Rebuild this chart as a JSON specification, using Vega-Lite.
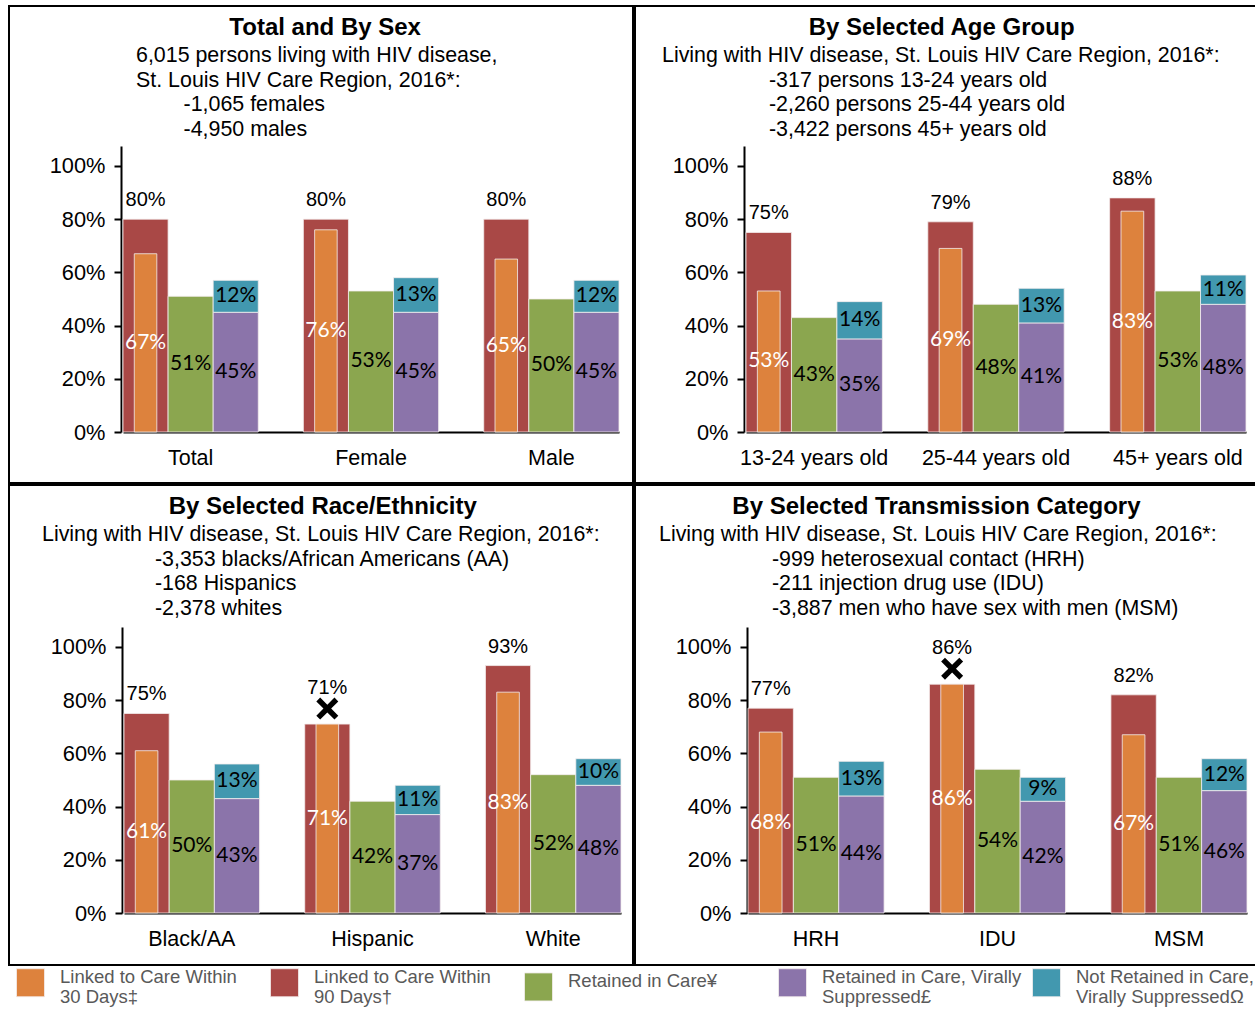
{
  "$schema": "https://vega.github.io/schema/vega-lite/v6.json",
  "padding": {"left": 8, "top": 5, "right": 0, "bottom": 0},
  "background": "white",
  "datasets": {
    "rows": [
      {"panel": "sex", "cat": "Total", "key": "l30", "series": "Linked to Care Within 30 Days‡", "group": "Linked", "value": 0.67, "flag": false},
      {"panel": "sex", "cat": "Total", "key": "l90", "series": "Linked to Care Within 90 Days†", "group": "Linked", "value": 0.80, "flag": false},
      {"panel": "sex", "cat": "Total", "key": "ret", "series": "Retained in Care¥", "group": "Retained", "value": 0.51, "flag": false},
      {"panel": "sex", "cat": "Total", "key": "vs", "series": "Retained in Care, Virally Suppressed£", "group": "Suppressed", "value": 0.45, "flag": false},
      {"panel": "sex", "cat": "Total", "key": "nrvs", "series": "Not Retained in Care, Virally SuppressedΩ", "group": "Suppressed", "value": 0.12, "flag": false},
      {"panel": "sex", "cat": "Female", "key": "l30", "series": "Linked to Care Within 30 Days‡", "group": "Linked", "value": 0.76, "flag": false},
      {"panel": "sex", "cat": "Female", "key": "l90", "series": "Linked to Care Within 90 Days†", "group": "Linked", "value": 0.80, "flag": false},
      {"panel": "sex", "cat": "Female", "key": "ret", "series": "Retained in Care¥", "group": "Retained", "value": 0.53, "flag": false},
      {"panel": "sex", "cat": "Female", "key": "vs", "series": "Retained in Care, Virally Suppressed£", "group": "Suppressed", "value": 0.45, "flag": false},
      {"panel": "sex", "cat": "Female", "key": "nrvs", "series": "Not Retained in Care, Virally SuppressedΩ", "group": "Suppressed", "value": 0.13, "flag": false},
      {"panel": "sex", "cat": "Male", "key": "l30", "series": "Linked to Care Within 30 Days‡", "group": "Linked", "value": 0.65, "flag": false},
      {"panel": "sex", "cat": "Male", "key": "l90", "series": "Linked to Care Within 90 Days†", "group": "Linked", "value": 0.80, "flag": false},
      {"panel": "sex", "cat": "Male", "key": "ret", "series": "Retained in Care¥", "group": "Retained", "value": 0.50, "flag": false},
      {"panel": "sex", "cat": "Male", "key": "vs", "series": "Retained in Care, Virally Suppressed£", "group": "Suppressed", "value": 0.45, "flag": false},
      {"panel": "sex", "cat": "Male", "key": "nrvs", "series": "Not Retained in Care, Virally SuppressedΩ", "group": "Suppressed", "value": 0.12, "flag": false},

      {"panel": "age", "cat": "13-24 years old", "key": "l30", "series": "Linked to Care Within 30 Days‡", "group": "Linked", "value": 0.53, "flag": false},
      {"panel": "age", "cat": "13-24 years old", "key": "l90", "series": "Linked to Care Within 90 Days†", "group": "Linked", "value": 0.75, "flag": false},
      {"panel": "age", "cat": "13-24 years old", "key": "ret", "series": "Retained in Care¥", "group": "Retained", "value": 0.43, "flag": false},
      {"panel": "age", "cat": "13-24 years old", "key": "vs", "series": "Retained in Care, Virally Suppressed£", "group": "Suppressed", "value": 0.35, "flag": false},
      {"panel": "age", "cat": "13-24 years old", "key": "nrvs", "series": "Not Retained in Care, Virally SuppressedΩ", "group": "Suppressed", "value": 0.14, "flag": false},
      {"panel": "age", "cat": "25-44 years old", "key": "l30", "series": "Linked to Care Within 30 Days‡", "group": "Linked", "value": 0.69, "flag": false},
      {"panel": "age", "cat": "25-44 years old", "key": "l90", "series": "Linked to Care Within 90 Days†", "group": "Linked", "value": 0.79, "flag": false},
      {"panel": "age", "cat": "25-44 years old", "key": "ret", "series": "Retained in Care¥", "group": "Retained", "value": 0.48, "flag": false},
      {"panel": "age", "cat": "25-44 years old", "key": "vs", "series": "Retained in Care, Virally Suppressed£", "group": "Suppressed", "value": 0.41, "flag": false},
      {"panel": "age", "cat": "25-44 years old", "key": "nrvs", "series": "Not Retained in Care, Virally SuppressedΩ", "group": "Suppressed", "value": 0.13, "flag": false},
      {"panel": "age", "cat": "45+ years old", "key": "l30", "series": "Linked to Care Within 30 Days‡", "group": "Linked", "value": 0.83, "flag": false},
      {"panel": "age", "cat": "45+ years old", "key": "l90", "series": "Linked to Care Within 90 Days†", "group": "Linked", "value": 0.88, "flag": false},
      {"panel": "age", "cat": "45+ years old", "key": "ret", "series": "Retained in Care¥", "group": "Retained", "value": 0.53, "flag": false},
      {"panel": "age", "cat": "45+ years old", "key": "vs", "series": "Retained in Care, Virally Suppressed£", "group": "Suppressed", "value": 0.48, "flag": false},
      {"panel": "age", "cat": "45+ years old", "key": "nrvs", "series": "Not Retained in Care, Virally SuppressedΩ", "group": "Suppressed", "value": 0.11, "flag": false},

      {"panel": "race", "cat": "Black/AA", "key": "l30", "series": "Linked to Care Within 30 Days‡", "group": "Linked", "value": 0.61, "flag": false},
      {"panel": "race", "cat": "Black/AA", "key": "l90", "series": "Linked to Care Within 90 Days†", "group": "Linked", "value": 0.75, "flag": false},
      {"panel": "race", "cat": "Black/AA", "key": "ret", "series": "Retained in Care¥", "group": "Retained", "value": 0.50, "flag": false},
      {"panel": "race", "cat": "Black/AA", "key": "vs", "series": "Retained in Care, Virally Suppressed£", "group": "Suppressed", "value": 0.43, "flag": false},
      {"panel": "race", "cat": "Black/AA", "key": "nrvs", "series": "Not Retained in Care, Virally SuppressedΩ", "group": "Suppressed", "value": 0.13, "flag": false},
      {"panel": "race", "cat": "Hispanic", "key": "l30", "series": "Linked to Care Within 30 Days‡", "group": "Linked", "value": 0.71, "flag": true},
      {"panel": "race", "cat": "Hispanic", "key": "l90", "series": "Linked to Care Within 90 Days†", "group": "Linked", "value": 0.71, "flag": true},
      {"panel": "race", "cat": "Hispanic", "key": "ret", "series": "Retained in Care¥", "group": "Retained", "value": 0.42, "flag": true},
      {"panel": "race", "cat": "Hispanic", "key": "vs", "series": "Retained in Care, Virally Suppressed£", "group": "Suppressed", "value": 0.37, "flag": true},
      {"panel": "race", "cat": "Hispanic", "key": "nrvs", "series": "Not Retained in Care, Virally SuppressedΩ", "group": "Suppressed", "value": 0.11, "flag": true},
      {"panel": "race", "cat": "White", "key": "l30", "series": "Linked to Care Within 30 Days‡", "group": "Linked", "value": 0.83, "flag": false},
      {"panel": "race", "cat": "White", "key": "l90", "series": "Linked to Care Within 90 Days†", "group": "Linked", "value": 0.93, "flag": false},
      {"panel": "race", "cat": "White", "key": "ret", "series": "Retained in Care¥", "group": "Retained", "value": 0.52, "flag": false},
      {"panel": "race", "cat": "White", "key": "vs", "series": "Retained in Care, Virally Suppressed£", "group": "Suppressed", "value": 0.48, "flag": false},
      {"panel": "race", "cat": "White", "key": "nrvs", "series": "Not Retained in Care, Virally SuppressedΩ", "group": "Suppressed", "value": 0.10, "flag": false},

      {"panel": "trans", "cat": "HRH", "key": "l30", "series": "Linked to Care Within 30 Days‡", "group": "Linked", "value": 0.68, "flag": false},
      {"panel": "trans", "cat": "HRH", "key": "l90", "series": "Linked to Care Within 90 Days†", "group": "Linked", "value": 0.77, "flag": false},
      {"panel": "trans", "cat": "HRH", "key": "ret", "series": "Retained in Care¥", "group": "Retained", "value": 0.51, "flag": false},
      {"panel": "trans", "cat": "HRH", "key": "vs", "series": "Retained in Care, Virally Suppressed£", "group": "Suppressed", "value": 0.44, "flag": false},
      {"panel": "trans", "cat": "HRH", "key": "nrvs", "series": "Not Retained in Care, Virally SuppressedΩ", "group": "Suppressed", "value": 0.13, "flag": false},
      {"panel": "trans", "cat": "IDU", "key": "l30", "series": "Linked to Care Within 30 Days‡", "group": "Linked", "value": 0.86, "flag": true},
      {"panel": "trans", "cat": "IDU", "key": "l90", "series": "Linked to Care Within 90 Days†", "group": "Linked", "value": 0.86, "flag": true},
      {"panel": "trans", "cat": "IDU", "key": "ret", "series": "Retained in Care¥", "group": "Retained", "value": 0.54, "flag": true},
      {"panel": "trans", "cat": "IDU", "key": "vs", "series": "Retained in Care, Virally Suppressed£", "group": "Suppressed", "value": 0.42, "flag": true},
      {"panel": "trans", "cat": "IDU", "key": "nrvs", "series": "Not Retained in Care, Virally SuppressedΩ", "group": "Suppressed", "value": 0.09, "flag": true},
      {"panel": "trans", "cat": "MSM", "key": "l30", "series": "Linked to Care Within 30 Days‡", "group": "Linked", "value": 0.67, "flag": false},
      {"panel": "trans", "cat": "MSM", "key": "l90", "series": "Linked to Care Within 90 Days†", "group": "Linked", "value": 0.82, "flag": false},
      {"panel": "trans", "cat": "MSM", "key": "ret", "series": "Retained in Care¥", "group": "Retained", "value": 0.51, "flag": false},
      {"panel": "trans", "cat": "MSM", "key": "vs", "series": "Retained in Care, Virally Suppressed£", "group": "Suppressed", "value": 0.46, "flag": false},
      {"panel": "trans", "cat": "MSM", "key": "nrvs", "series": "Not Retained in Care, Virally SuppressedΩ", "group": "Suppressed", "value": 0.12, "flag": false}
    ]
  },
  "data": {"name": "rows"},
  "spacing": 0,
  "resolve": {"scale": {"xOffset": "independent"}},
  "vconcat": [
    {
      "spacing": 0,
      "resolve": {"scale": {"xOffset": "independent"}},
      "hconcat": [
        {
          "width": 624, "height": 477,
          "resolve": {"scale": {"xOffset": "independent"}},
          "title": {"text": "\u200b\u00a0\u00a0\u00a0\u00a0\u00a0\u00a0\u00a0\u00a0\u00a0\u00a0\u00a0\u00a0\u00a0\u00a0Total and By Sex",
            "subtitle": ["6,015 persons living with HIV disease,", "St. Louis HIV Care Region, 2016*:", "\u200b\u00a0\u00a0\u00a0\u00a0\u00a0\u00a0\u00a0\u00a0-1,065 females", "\u200b\u00a0\u00a0\u00a0\u00a0\u00a0\u00a0\u00a0\u00a0-4,950 males"],
            "dx": 127},
          "transform": [{"filter": "datum.panel == 'sex'"}],
          "encoding": {
            "x": {"field": "cat", "type": "nominal", "title": null, "scale": {"type": "band", "domain": ["Total", "Female", "Male"], "range": [114, 610], "paddingInner": 0.25, "paddingOuter": 0}, "axis": {"offset": -51}},
            "xOffset": {"field": "group", "type": "nominal", "scale": {"type": "band", "domain": ["Linked", "Retained", "Suppressed"], "paddingInner": 0, "paddingOuter": 0}},
            "color": {"field": "series", "type": "nominal", "title": null,
              "scale": {"domain": ["Linked to Care Within 30 Days‡", "Linked to Care Within 90 Days†", "Retained in Care¥", "Retained in Care, Virally Suppressed£", "Not Retained in Care, Virally SuppressedΩ"], "range": ["#DD823D", "#A94846", "#8BA64F", "#8B74AA", "#4298AF"]},
              "legend": {"title": null, "labelExpr": "datum.label == 'Linked to Care Within 30 Days‡' ? ['Linked to Care Within', '30 Days‡'] : datum.label == 'Linked to Care Within 90 Days†' ? ['Linked to Care Within', '90 Days†'] : datum.label == 'Retained in Care, Virally Suppressed£' ? ['Retained in Care, Virally', 'Suppressed£'] : datum.label == 'Not Retained in Care, Virally SuppressedΩ' ? ['Not Retained in Care,', 'Virally SuppressedΩ'] : datum.label"}}
          },
          "layer": [
            {"transform": [{"filter": {"field": "key", "oneOf": ["l90", "ret"]}}], "mark": {"type": "bar"},
             "encoding": {"y": {"field": "value", "type": "quantitative", "stack": null, "title": null, "scale": {"domain": [0, 1.075], "range": [426, 140], "nice": false, "zero": false}, "axis": {"offset": -112, "values": [0, 0.2, 0.4, 0.6, 0.8, 1], "format": ".0%"}}}},
            {"transform": [{"filter": {"field": "key", "equal": "l30"}}], "mark": {"type": "bar"},
             "encoding": {"xOffset": {"field": "group", "type": "nominal", "scale": {"type": "band", "domain": ["Linked", "Retained", "Suppressed"], "paddingInner": 0.5, "paddingOuter": 0.25}}, "y": {"field": "value", "type": "quantitative", "stack": null, "title": null}}},
            {"transform": [{"filter": {"field": "key", "oneOf": ["vs", "nrvs"]}}], "mark": {"type": "bar"},
             "encoding": {"y": {"field": "value", "type": "quantitative", "stack": "zero", "title": null}, "order": {"field": "key", "sort": "descending"}}},
            {"transform": [{"filter": {"field": "key", "equal": "l30"}}], "mark": {"type": "text", "font": "Lato", "fontSize": 21},
             "encoding": {"y": {"field": "value", "type": "quantitative", "stack": "zero", "bandPosition": 0.5, "title": null}, "text": {"field": "value", "type": "quantitative", "format": ".0%"}, "color": {"value": "white"}}},
            {"transform": [{"filter": {"field": "key", "equal": "ret"}}], "mark": {"type": "text", "font": "Lato", "fontSize": 21},
             "encoding": {"y": {"field": "value", "type": "quantitative", "stack": "zero", "bandPosition": 0.5, "title": null}, "text": {"field": "value", "type": "quantitative", "format": ".0%"}, "color": {"value": "black"}}},
            {"transform": [{"filter": {"field": "key", "oneOf": ["vs", "nrvs"]}}], "mark": {"type": "text", "font": "Lato", "fontSize": 21},
             "encoding": {"y": {"field": "value", "type": "quantitative", "stack": "zero", "bandPosition": 0.5, "title": null}, "detail": {"field": "key"}, "order": {"field": "key", "sort": "descending"}, "text": {"field": "value", "type": "quantitative", "format": ".0%"}, "color": {"value": "black"}}},
            {"transform": [{"filter": "datum.key == 'l90' && !datum.flag"}], "mark": {"type": "text", "font": "Liberation Sans", "fontSize": 20, "baseline": "alphabetic", "dy": -13},
             "encoding": {"y": {"field": "value", "type": "quantitative", "title": null}, "text": {"field": "value", "type": "quantitative", "format": ".0%"}, "color": {"value": "black"}}}
          ]
        },
        {
          "width": 623, "height": 477,
          "resolve": {"scale": {"xOffset": "independent"}},
          "title": {"text": "\u200b\u00a0\u00a0\u00a0\u00a0\u00a0\u00a0\u00a0\u00a0\u00a0\u00a0\u00a0\u00a0\u00a0\u00a0\u00a0\u00a0\u00a0\u00a0\u00a0\u00a0\u00a0\u00a0By Selected Age Group",
            "subtitle": ["Living with HIV disease, St. Louis HIV Care Region, 2016*:", "\u200b\u00a0\u00a0\u00a0\u00a0\u00a0\u00a0\u00a0\u00a0\u00a0\u00a0\u00a0\u00a0\u00a0\u00a0\u00a0\u00a0\u00a0\u00a0-317 persons 13-24 years old", "\u200b\u00a0\u00a0\u00a0\u00a0\u00a0\u00a0\u00a0\u00a0\u00a0\u00a0\u00a0\u00a0\u00a0\u00a0\u00a0\u00a0\u00a0\u00a0-2,260 persons 25-44 years old", "\u200b\u00a0\u00a0\u00a0\u00a0\u00a0\u00a0\u00a0\u00a0\u00a0\u00a0\u00a0\u00a0\u00a0\u00a0\u00a0\u00a0\u00a0\u00a0-3,422 persons 45+ years old"],
            "dx": 27},
          "transform": [{"filter": "datum.panel == 'age'"}],
          "encoding": {
            "x": {"field": "cat", "type": "nominal", "title": null, "scale": {"type": "band", "domain": ["13-24 years old", "25-44 years old", "45+ years old"], "range": [111, 611], "paddingInner": 0.25, "paddingOuter": 0}, "axis": {"offset": -51}},
            "xOffset": {"field": "group", "type": "nominal", "scale": {"type": "band", "domain": ["Linked", "Retained", "Suppressed"], "paddingInner": 0, "paddingOuter": 0}},
            "color": {"field": "series", "type": "nominal", "title": null,
              "scale": {"domain": ["Linked to Care Within 30 Days‡", "Linked to Care Within 90 Days†", "Retained in Care¥", "Retained in Care, Virally Suppressed£", "Not Retained in Care, Virally SuppressedΩ"], "range": ["#DD823D", "#A94846", "#8BA64F", "#8B74AA", "#4298AF"]},
              "legend": {"title": null, "labelExpr": "datum.label == 'Linked to Care Within 30 Days‡' ? ['Linked to Care Within', '30 Days‡'] : datum.label == 'Linked to Care Within 90 Days†' ? ['Linked to Care Within', '90 Days†'] : datum.label == 'Retained in Care, Virally Suppressed£' ? ['Retained in Care, Virally', 'Suppressed£'] : datum.label == 'Not Retained in Care, Virally SuppressedΩ' ? ['Not Retained in Care,', 'Virally SuppressedΩ'] : datum.label"}}
          },
          "layer": [
            {"transform": [{"filter": {"field": "key", "oneOf": ["l90", "ret"]}}], "mark": {"type": "bar"},
             "encoding": {"y": {"field": "value", "type": "quantitative", "stack": null, "title": null, "scale": {"domain": [0, 1.075], "range": [426, 140], "nice": false, "zero": false}, "axis": {"offset": -109, "values": [0, 0.2, 0.4, 0.6, 0.8, 1], "format": ".0%"}}}},
            {"transform": [{"filter": {"field": "key", "equal": "l30"}}], "mark": {"type": "bar"},
             "encoding": {"xOffset": {"field": "group", "type": "nominal", "scale": {"type": "band", "domain": ["Linked", "Retained", "Suppressed"], "paddingInner": 0.5, "paddingOuter": 0.25}}, "y": {"field": "value", "type": "quantitative", "stack": null, "title": null}}},
            {"transform": [{"filter": {"field": "key", "oneOf": ["vs", "nrvs"]}}], "mark": {"type": "bar"},
             "encoding": {"y": {"field": "value", "type": "quantitative", "stack": "zero", "title": null}, "order": {"field": "key", "sort": "descending"}}},
            {"transform": [{"filter": {"field": "key", "equal": "l30"}}], "mark": {"type": "text", "font": "Lato", "fontSize": 21},
             "encoding": {"y": {"field": "value", "type": "quantitative", "stack": "zero", "bandPosition": 0.5, "title": null}, "text": {"field": "value", "type": "quantitative", "format": ".0%"}, "color": {"value": "white"}}},
            {"transform": [{"filter": {"field": "key", "equal": "ret"}}], "mark": {"type": "text", "font": "Lato", "fontSize": 21},
             "encoding": {"y": {"field": "value", "type": "quantitative", "stack": "zero", "bandPosition": 0.5, "title": null}, "text": {"field": "value", "type": "quantitative", "format": ".0%"}, "color": {"value": "black"}}},
            {"transform": [{"filter": {"field": "key", "oneOf": ["vs", "nrvs"]}}], "mark": {"type": "text", "font": "Lato", "fontSize": 21},
             "encoding": {"y": {"field": "value", "type": "quantitative", "stack": "zero", "bandPosition": 0.5, "title": null}, "detail": {"field": "key"}, "order": {"field": "key", "sort": "descending"}, "text": {"field": "value", "type": "quantitative", "format": ".0%"}, "color": {"value": "black"}}},
            {"transform": [{"filter": "datum.key == 'l90' && !datum.flag"}], "mark": {"type": "text", "font": "Liberation Sans", "fontSize": 20, "baseline": "alphabetic", "dy": -13},
             "encoding": {"y": {"field": "value", "type": "quantitative", "title": null}, "text": {"field": "value", "type": "quantitative", "format": ".0%"}, "color": {"value": "black"}}}
          ]
        }
      ]
    },
    {
      "spacing": 0,
      "resolve": {"scale": {"xOffset": "independent"}},
      "hconcat": [
        {
          "width": 624, "height": 480,
          "resolve": {"scale": {"xOffset": "independent"}},
          "title": {"text": "\u200b\u00a0\u00a0\u00a0\u00a0\u00a0\u00a0\u00a0\u00a0\u00a0\u00a0\u00a0\u00a0\u00a0\u00a0\u00a0\u00a0\u00a0\u00a0\u00a0By Selected Race/Ethnicity",
            "subtitle": ["Living with HIV disease, St. Louis HIV Care Region, 2016*:", "\u200b\u00a0\u00a0\u00a0\u00a0\u00a0\u00a0\u00a0\u00a0\u00a0\u00a0\u00a0\u00a0\u00a0\u00a0\u00a0\u00a0\u00a0\u00a0\u00a0-3,353 blacks/African Americans (AA)", "\u200b\u00a0\u00a0\u00a0\u00a0\u00a0\u00a0\u00a0\u00a0\u00a0\u00a0\u00a0\u00a0\u00a0\u00a0\u00a0\u00a0\u00a0\u00a0\u00a0-168 Hispanics", "\u200b\u00a0\u00a0\u00a0\u00a0\u00a0\u00a0\u00a0\u00a0\u00a0\u00a0\u00a0\u00a0\u00a0\u00a0\u00a0\u00a0\u00a0\u00a0\u00a0-2,378 whites"],
            "dx": 33},
          "transform": [{"filter": "datum.panel == 'race'"}],
          "encoding": {
            "x": {"field": "cat", "type": "nominal", "title": null, "scale": {"type": "band", "domain": ["Black/AA", "Hispanic", "White"], "range": [115, 612], "paddingInner": 0.25, "paddingOuter": 0}, "axis": {"offset": -52}},
            "xOffset": {"field": "group", "type": "nominal", "scale": {"type": "band", "domain": ["Linked", "Retained", "Suppressed"], "paddingInner": 0, "paddingOuter": 0}},
            "color": {"field": "series", "type": "nominal", "title": null,
              "scale": {"domain": ["Linked to Care Within 30 Days‡", "Linked to Care Within 90 Days†", "Retained in Care¥", "Retained in Care, Virally Suppressed£", "Not Retained in Care, Virally SuppressedΩ"], "range": ["#DD823D", "#A94846", "#8BA64F", "#8B74AA", "#4298AF"]},
              "legend": {"title": null, "labelExpr": "datum.label == 'Linked to Care Within 30 Days‡' ? ['Linked to Care Within', '30 Days‡'] : datum.label == 'Linked to Care Within 90 Days†' ? ['Linked to Care Within', '90 Days†'] : datum.label == 'Retained in Care, Virally Suppressed£' ? ['Retained in Care, Virally', 'Suppressed£'] : datum.label == 'Not Retained in Care, Virally SuppressedΩ' ? ['Not Retained in Care,', 'Virally SuppressedΩ'] : datum.label"}}
          },
          "layer": [
            {"transform": [{"filter": {"field": "key", "oneOf": ["l90", "ret"]}}], "mark": {"type": "bar"},
             "encoding": {"y": {"field": "value", "type": "quantitative", "stack": null, "title": null, "scale": {"domain": [0, 1.075], "range": [428, 142], "nice": false, "zero": false}, "axis": {"offset": -113, "values": [0, 0.2, 0.4, 0.6, 0.8, 1], "format": ".0%"}}}},
            {"transform": [{"filter": {"field": "key", "equal": "l30"}}], "mark": {"type": "bar"},
             "encoding": {"xOffset": {"field": "group", "type": "nominal", "scale": {"type": "band", "domain": ["Linked", "Retained", "Suppressed"], "paddingInner": 0.5, "paddingOuter": 0.25}}, "y": {"field": "value", "type": "quantitative", "stack": null, "title": null}}},
            {"transform": [{"filter": {"field": "key", "oneOf": ["vs", "nrvs"]}}], "mark": {"type": "bar"},
             "encoding": {"y": {"field": "value", "type": "quantitative", "stack": "zero", "title": null}, "order": {"field": "key", "sort": "descending"}}},
            {"transform": [{"filter": {"field": "key", "equal": "l30"}}], "mark": {"type": "text", "font": "Lato", "fontSize": 21},
             "encoding": {"y": {"field": "value", "type": "quantitative", "stack": "zero", "bandPosition": 0.5, "title": null}, "text": {"field": "value", "type": "quantitative", "format": ".0%"}, "color": {"value": "white"}}},
            {"transform": [{"filter": {"field": "key", "equal": "ret"}}], "mark": {"type": "text", "font": "Lato", "fontSize": 21},
             "encoding": {"y": {"field": "value", "type": "quantitative", "stack": "zero", "bandPosition": 0.5, "title": null}, "text": {"field": "value", "type": "quantitative", "format": ".0%"}, "color": {"value": "black"}}},
            {"transform": [{"filter": {"field": "key", "oneOf": ["vs", "nrvs"]}}], "mark": {"type": "text", "font": "Lato", "fontSize": 21},
             "encoding": {"y": {"field": "value", "type": "quantitative", "stack": "zero", "bandPosition": 0.5, "title": null}, "detail": {"field": "key"}, "order": {"field": "key", "sort": "descending"}, "text": {"field": "value", "type": "quantitative", "format": ".0%"}, "color": {"value": "black"}}},
            {"transform": [{"filter": "datum.key == 'l90' && !datum.flag"}], "mark": {"type": "text", "font": "Liberation Sans", "fontSize": 20, "baseline": "alphabetic", "dy": -13},
             "encoding": {"y": {"field": "value", "type": "quantitative", "title": null}, "text": {"field": "value", "type": "quantitative", "format": ".0%"}, "color": {"value": "black"}}},
            {"transform": [{"filter": "datum.key == 'l90' && datum.flag"}], "mark": {"type": "text", "font": "Liberation Sans", "fontSize": 20, "baseline": "alphabetic", "dy": -30},
             "encoding": {"y": {"field": "value", "type": "quantitative", "title": null}, "text": {"field": "value", "type": "quantitative", "format": ".0%"}, "color": {"value": "black"}}},
            {"transform": [{"filter": "datum.key == 'l90' && datum.flag"}], "mark": {"type": "point", "shape": "M-1,-0.65L-0.65,-1L0,-0.35L0.65,-1L1,-0.65L0.35,0L1,0.65L0.65,1L0,0.35L-0.65,1L-1,0.65L-0.35,0Z", "filled": true, "size": 484, "opacity": 1, "yOffset": -15.5},
             "encoding": {"y": {"field": "value", "type": "quantitative", "title": null}, "color": {"value": "black"}}}
          ]
        },
        {
          "width": 623, "height": 480,
          "resolve": {"scale": {"xOffset": "independent"}},
          "title": {"text": "\u200b\u00a0\u00a0\u00a0\u00a0\u00a0\u00a0\u00a0\u00a0\u00a0\u00a0\u00a0By Selected Transmission Category",
            "subtitle": ["Living with HIV disease, St. Louis HIV Care Region, 2016*:", "\u200b\u00a0\u00a0\u00a0\u00a0\u00a0\u00a0\u00a0\u00a0\u00a0\u00a0\u00a0\u00a0\u00a0\u00a0\u00a0\u00a0\u00a0\u00a0\u00a0-999 heterosexual contact (HRH)", "\u200b\u00a0\u00a0\u00a0\u00a0\u00a0\u00a0\u00a0\u00a0\u00a0\u00a0\u00a0\u00a0\u00a0\u00a0\u00a0\u00a0\u00a0\u00a0\u00a0-211 injection drug use (IDU)", "\u200b\u00a0\u00a0\u00a0\u00a0\u00a0\u00a0\u00a0\u00a0\u00a0\u00a0\u00a0\u00a0\u00a0\u00a0\u00a0\u00a0\u00a0\u00a0\u00a0-3,887 men who have sex with men (MSM)"],
            "dx": 24},
          "transform": [{"filter": "datum.panel == 'trans'"}],
          "encoding": {
            "x": {"field": "cat", "type": "nominal", "title": null, "scale": {"type": "band", "domain": ["HRH", "IDU", "MSM"], "range": [113, 612], "paddingInner": 0.25, "paddingOuter": 0}, "axis": {"offset": -52}},
            "xOffset": {"field": "group", "type": "nominal", "scale": {"type": "band", "domain": ["Linked", "Retained", "Suppressed"], "paddingInner": 0, "paddingOuter": 0}},
            "color": {"field": "series", "type": "nominal", "title": null,
              "scale": {"domain": ["Linked to Care Within 30 Days‡", "Linked to Care Within 90 Days†", "Retained in Care¥", "Retained in Care, Virally Suppressed£", "Not Retained in Care, Virally SuppressedΩ"], "range": ["#DD823D", "#A94846", "#8BA64F", "#8B74AA", "#4298AF"]},
              "legend": {"title": null, "labelExpr": "datum.label == 'Linked to Care Within 30 Days‡' ? ['Linked to Care Within', '30 Days‡'] : datum.label == 'Linked to Care Within 90 Days†' ? ['Linked to Care Within', '90 Days†'] : datum.label == 'Retained in Care, Virally Suppressed£' ? ['Retained in Care, Virally', 'Suppressed£'] : datum.label == 'Not Retained in Care, Virally SuppressedΩ' ? ['Not Retained in Care,', 'Virally SuppressedΩ'] : datum.label"}}
          },
          "layer": [
            {"transform": [{"filter": {"field": "key", "oneOf": ["l90", "ret"]}}], "mark": {"type": "bar"},
             "encoding": {"y": {"field": "value", "type": "quantitative", "stack": null, "title": null, "scale": {"domain": [0, 1.075], "range": [428, 142], "nice": false, "zero": false}, "axis": {"offset": -112, "values": [0, 0.2, 0.4, 0.6, 0.8, 1], "format": ".0%"}}}},
            {"transform": [{"filter": {"field": "key", "equal": "l30"}}], "mark": {"type": "bar"},
             "encoding": {"xOffset": {"field": "group", "type": "nominal", "scale": {"type": "band", "domain": ["Linked", "Retained", "Suppressed"], "paddingInner": 0.5, "paddingOuter": 0.25}}, "y": {"field": "value", "type": "quantitative", "stack": null, "title": null}}},
            {"transform": [{"filter": {"field": "key", "oneOf": ["vs", "nrvs"]}}], "mark": {"type": "bar"},
             "encoding": {"y": {"field": "value", "type": "quantitative", "stack": "zero", "title": null}, "order": {"field": "key", "sort": "descending"}}},
            {"transform": [{"filter": {"field": "key", "equal": "l30"}}], "mark": {"type": "text", "font": "Lato", "fontSize": 21},
             "encoding": {"y": {"field": "value", "type": "quantitative", "stack": "zero", "bandPosition": 0.5, "title": null}, "text": {"field": "value", "type": "quantitative", "format": ".0%"}, "color": {"value": "white"}}},
            {"transform": [{"filter": {"field": "key", "equal": "ret"}}], "mark": {"type": "text", "font": "Lato", "fontSize": 21},
             "encoding": {"y": {"field": "value", "type": "quantitative", "stack": "zero", "bandPosition": 0.5, "title": null}, "text": {"field": "value", "type": "quantitative", "format": ".0%"}, "color": {"value": "black"}}},
            {"transform": [{"filter": {"field": "key", "oneOf": ["vs", "nrvs"]}}], "mark": {"type": "text", "font": "Lato", "fontSize": 21},
             "encoding": {"y": {"field": "value", "type": "quantitative", "stack": "zero", "bandPosition": 0.5, "title": null}, "detail": {"field": "key"}, "order": {"field": "key", "sort": "descending"}, "text": {"field": "value", "type": "quantitative", "format": ".0%"}, "color": {"value": "black"}}},
            {"transform": [{"filter": "datum.key == 'l90' && !datum.flag"}], "mark": {"type": "text", "font": "Liberation Sans", "fontSize": 20, "baseline": "alphabetic", "dy": -13},
             "encoding": {"y": {"field": "value", "type": "quantitative", "title": null}, "text": {"field": "value", "type": "quantitative", "format": ".0%"}, "color": {"value": "black"}}},
            {"transform": [{"filter": "datum.key == 'l90' && datum.flag"}], "mark": {"type": "text", "font": "Liberation Sans", "fontSize": 20, "baseline": "alphabetic", "dy": -30},
             "encoding": {"y": {"field": "value", "type": "quantitative", "title": null}, "text": {"field": "value", "type": "quantitative", "format": ".0%"}, "color": {"value": "black"}}},
            {"transform": [{"filter": "datum.key == 'l90' && datum.flag"}], "mark": {"type": "point", "shape": "M-1,-0.65L-0.65,-1L0,-0.35L0.65,-1L1,-0.65L0.35,0L1,0.65L0.65,1L0,0.35L-0.65,1L-1,0.65L-0.35,0Z", "filled": true, "size": 484, "opacity": 1, "yOffset": -15.5},
             "encoding": {"y": {"field": "value", "type": "quantitative", "title": null}, "color": {"value": "black"}}}
          ]
        }
      ]
    }
  ],
  "config": {
    "font": "Liberation Sans",
    "view": {"stroke": "black", "strokeWidth": 2},
    "concat": {"spacing": 0},
    "bar": {"stroke": "#f4eeee", "strokeWidth": 0.8},
    "axis": {"labelFont": "Liberation Sans", "labelFontSize": 20, "labelColor": "black", "domainColor": "black", "domainWidth": 2, "tickColor": "black", "tickWidth": 2, "grid": false},
    "axisX": {"ticks": false, "labelPadding": 15, "labelAngle": 0, "labelFontSize": 21.5},
    "axisY": {"tickSize": 7, "labelPadding": 9, "labelFontSize": 21.8},
    "title": {"anchor": "start", "align": "left", "frame": "group", "offset": -134, "font": "Liberation Sans", "fontSize": 24, "fontWeight": "bold", "color": "black", "subtitleFont": "Liberation Sans", "subtitleFontSize": 21.4, "subtitleColor": "black", "subtitleLineHeight": 24.5, "subtitlePadding": 5},
    "legend": {"orient": "none", "legendX": 7, "legendY": 962, "direction": "horizontal", "columns": 5, "gridAlign": "all", "columnPadding": 8, "symbolType": "square", "symbolSize": 784, "symbolStrokeWidth": 0, "labelFont": "Liberation Sans", "labelFontSize": 18.5, "labelColor": "#595959", "labelLimit": 300, "labelOffset": 15, "labelBaseline": "alphabetic", "padding": 0, "offset": 0}
  }
}
